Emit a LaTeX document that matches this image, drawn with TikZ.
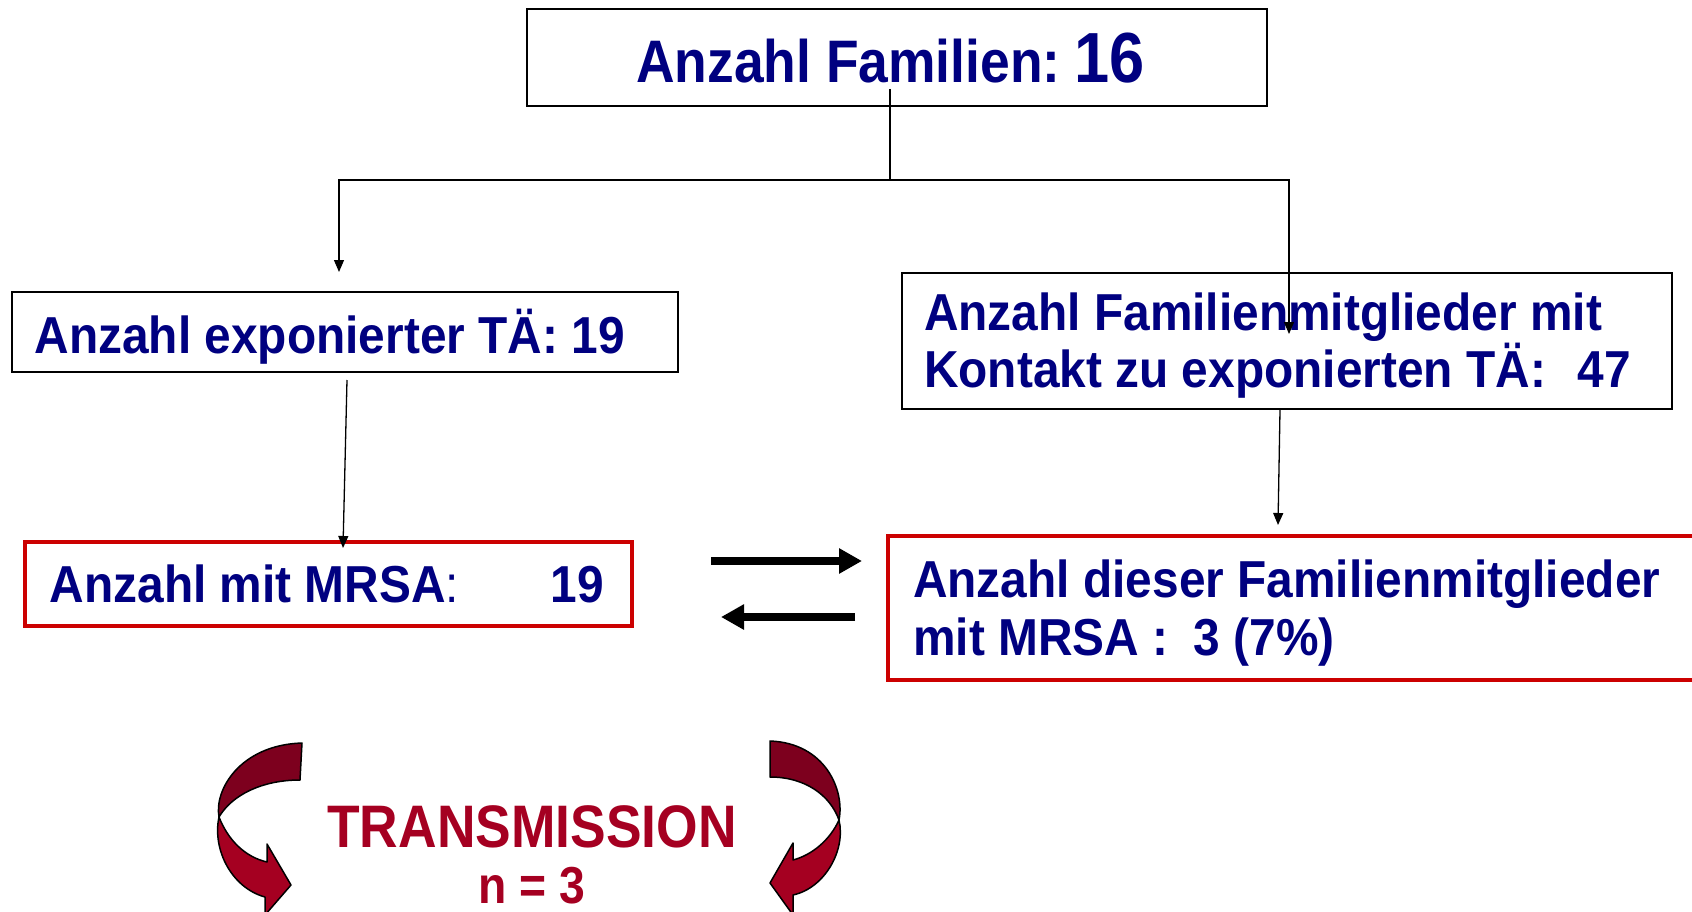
\documentclass[tikz,border=0pt]{standalone}
\usepackage{fontspec}
\setmainfont{Liberation Sans}
\newfontfamily\af[FakeStretch=0.89]{Liberation Sans}
\newfontfamily\bxf[FakeStretch=0.92]{Liberation Sans}
\usetikzlibrary{arrows.meta}
\definecolor{navy}{RGB}{0,0,128}
\definecolor{boxred}{RGB}{204,0,0}
\definecolor{darkcrim}{RGB}{125,0,30}
\definecolor{crim}{RGB}{165,0,33}
\begin{document}
\begin{tikzpicture}[x=1pt,y=-1pt,
  bbox/.style={draw=black,line width=1.5pt,inner sep=0pt},
  rbox/.style={draw=boxred,line width=4.5pt,inner sep=0pt},
  txt/.style={anchor=base west,inner sep=0pt,text=navy,font=\bxf\bfseries\fontsize{52}{60}\selectfont},
  conn/.style={line width=1.3pt,-{Triangle[length=12pt,width=10pt]}},
  bigarr/.style={line width=8pt,-{Triangle[length=23pt,width=24pt]}},
  ribbon/.style={draw=black,line width=1.5pt,line join=round},
  trans/.style={anchor=base,inner sep=0pt,text=crim,font=\af\bfseries\fontsize{60}{70}\selectfont}]
\useasboundingbox (0,0) rectangle (1692,912);
% boxes
\node[bbox,minimum width=740pt,minimum height=97pt] (top) at (897,57.5) {};
\node[bbox,minimum width=666pt,minimum height=80pt] (left) at (345,332) {};
\node[bbox,minimum width=770pt,minimum height=136pt] (right) at (1287,341) {};
\node[rbox,minimum width=607pt,minimum height=84pt] (rleft) at (328.5,584) {};
\node[rbox,minimum width=822pt,minimum height=144pt] (rright) at (1299,608) {};
% texts
\node[txt,font=\af\bfseries\fontsize{60}{70}\selectfont] (ttop) at (636,83) {Anzahl Familien:\hspace{-6pt} {\fontsize{71}{80}\selectfont 16}};
\node[txt] (tleft) at (34.5,353) {Anzahl exponierter TÄ: 19};
\node[txt] (tright1) at (924,330) {Anzahl Familienmitglieder mit};
\node[txt] (tright2) at (924,387) {Kontakt zu exponierten TÄ:\hspace{18pt} 47};
\node[txt] (trleft) at (49.6,602) {Anzahl mit MRSA{\mdseries :}};
\node[txt,anchor=base east] (trleft2) at (604,602) {19};
\node[txt] (trright1) at (913,597) {Anzahl dieser Familienmitglieder};
\node[txt] (trright2) at (913,655) {mit MRSA :\hspace{12pt} 3 (7\%)};
\node[trans] (tt) at (532,847) {TRANSMISSION};
\node[trans,font=\af\bfseries\fontsize{52}{60}\selectfont] (tn) at (532,903) {n = 3};
% connectors
\coordinate (t0) at (890,89);
\coordinate (t1) at (890,180);
\coordinate (lt) at (339,180);
\coordinate (la) at (339,272);
\coordinate (rt) at (1289,180);
\coordinate (ra) at (1289,334);
\draw[line width=1.3pt] (t0) -- (t1);
\draw[conn] (t1) -- (lt) -- (la);
\draw[conn] (t1) -- (rt) -- (ra);
\coordinate (ls) at (347,380);
\coordinate (le) at (343,548);
\draw[conn] (ls) -- (le);
\coordinate (rs) at (1280,410);
\coordinate (re) at (1278,525);
\draw[conn] (rs) -- (re);
% exchange arrows
\coordinate (a1) at (711,561);
\coordinate (a2) at (862,561);
\coordinate (b1) at (855,617);
\coordinate (b2) at (721,617);
\draw[bigarr] (a1) -- (a2);
\draw[bigarr] (b1) -- (b2);
% curved arrows
\filldraw[ribbon,fill=darkcrim] (302,743) -- (300,780) .. controls (262,780) and (232,795) .. (219,817) .. controls (214,790) and (240,745) .. (302,743) -- cycle;
\filldraw[ribbon,fill=crim] (219,817) .. controls (212,850) and (232,888) .. (265,897) -- (265,915) -- (291,885) -- (267,844) -- (267,862) .. controls (245,857) and (228,840) .. (219,817) -- cycle;
\filldraw[ribbon,fill=darkcrim] (770,741) -- (770,777) .. controls (805,777) and (830,795) .. (839,820) .. controls (845,790) and (825,743) .. (770,741) -- cycle;
\filldraw[ribbon,fill=crim] (839,820) .. controls (846,850) and (825,888) .. (793,895) -- (793,915) -- (770,883) -- (793,843) -- (793,860) .. controls (812,855) and (830,840) .. (839,820) -- cycle;
\end{tikzpicture}
\end{document}
